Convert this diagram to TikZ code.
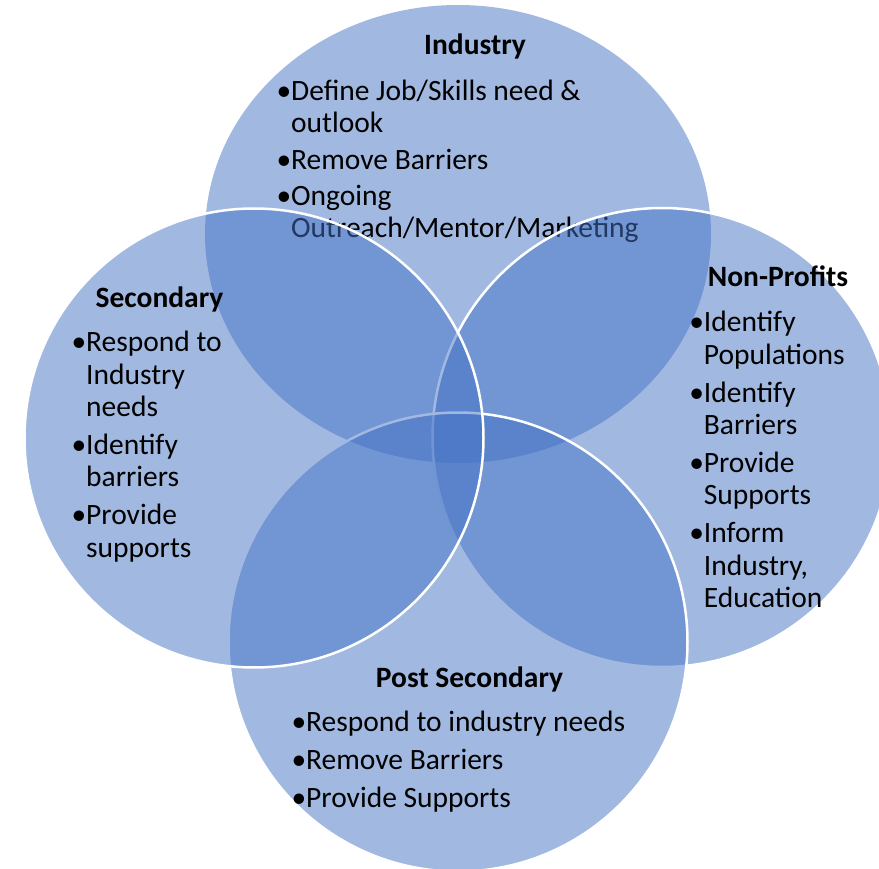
\documentclass[tikz,border=0pt]{standalone}
\usepackage{fontspec}
\setmainfont{Carlito}
\usetikzlibrary{shapes.geometric}
\definecolor{vblue}{HTML}{4472C4}
\newcommand{\bul}{\makebox[14.5pt][l]{•}}
\tikzset{
  venn/.style={fill=vblue, fill opacity=0.5, inner sep=0pt, outer sep=0pt},
  vring/.style={venn, circle, minimum size=459pt, draw=white, draw opacity=1, line width=2.5pt},
  ttl/.style={anchor=base, inner sep=0pt, font=\fontsize{29.5}{32.3}\selectfont\bfseries},
  body/.style={anchor=base west, inner sep=0pt, font=\fontsize{29.5}{32.3}\selectfont},
  bodyi/.style={anchor=base west, inner sep=0pt, font=\fontsize{29.5}{31.3}\selectfont}
}
\begin{document}
\begin{tikzpicture}[x=1pt,y=-1pt]
\useasboundingbox (0,0) rectangle (879,869);
\clip (0,0) rectangle (879,869);
% Industry (drawn first, its text below the other circles)
\node[venn, ellipse, minimum width=506pt, minimum height=458pt] (ind) at (458,234) {};
\node[ttl] (indt) at (475,55) {Industry};
\node[bodyi] (indb) at (276.5,101) {\begin{tabular}[t]{@{}l@{}l@{}}
\bul & Define Job/Skills need \&\\
 & outlook\\[5.5pt]
\bul & Remove Barriers\\[5.5pt]
\bul & Ongoing\\
 & Outreach/Mentor/Marketing
\end{tabular}};
% other circles
\node[vring] (np) at (662,437.5) {};
\node[vring] (ps) at (458,642) {};
\node[vring] (sec) at (254,438) {};
% Secondary
\node[ttl] (sect) at (159.5,308) {Secondary};
\node[body] (secb) at (71.5,352) {\begin{tabular}[t]{@{}l@{}l@{}}
\bul & Respond to\\
 & Industry\\
 & needs\\[5.7pt]
\bul & Identify\\
 & barriers\\[5.7pt]
\bul & Provide\\
 & supports
\end{tabular}};
% Non-Profits
\node[ttl] (npt) at (778,287) {Non-Profits};
\node[body] (npb) at (689.2,332) {\begin{tabular}[t]{@{}l@{}l@{}}
\bul & Identify\\
 & Populations\\[5.7pt]
\bul & Identify\\
 & Barriers\\[5.7pt]
\bul & Provide\\
 & Supports\\[5.7pt]
\bul & Inform\\
 & Industry,\\
 & Education
\end{tabular}};
% Post Secondary
\node[ttl] (pst) at (469.5,687) {Post Secondary};
\node[body] (psb) at (291.5,731) {\begin{tabular}[t]{@{}l@{}l@{}}
\bul & Respond to industry needs\\[5.7pt]
\bul & Remove Barriers\\[5.7pt]
\bul & Provide Supports
\end{tabular}};
\end{tikzpicture}
\end{document}
